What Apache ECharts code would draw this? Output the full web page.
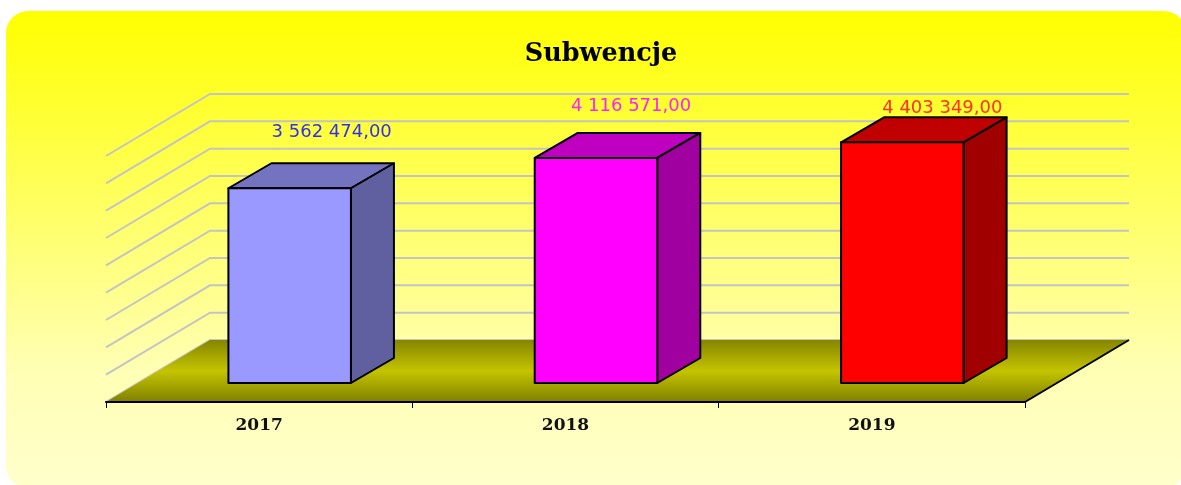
<!DOCTYPE html>
<html>
<head>
<meta charset="utf-8">
<style>html,body{margin:0;padding:0;background:#fff;overflow:hidden}#c{width:1181px;height:485px}</style>
<script src="https://cdn.jsdelivr.net/npm/echarts@6/dist/echarts.min.js"></script>
</head>
<body>
<div id="c"></div>
<script>
var chartTitle = 'Subwencje';
var categories = ['2017', '2018', '2019'];
var values = [3562474, 4116571, 4403349];
var valueLabels = ['3 562 474,00', '4 116 571,00', '4 403 349,00'];
var gridValues = [0, 500000, 1000000, 1500000, 2000000, 2500000, 3000000, 3500000, 4000000, 4500000];
var frontColors = ['#9999ff', '#ff00ff', '#ff0000'];
var topColors = ['#7373bf', '#c000c0', '#c00000'];
var sideColors = ['#6060a0', '#a000a0', '#a00000'];
var labelColors = ['#3030f0', '#ff20ff', '#ff3020'];

// 3D projection constants
var DEPTH_X = 104, DEPTH_Y = -62;       // floor depth
var BAR_X = 30.5, BAR_Y = -19;          // front plane of the bars
var BAR_DX = 43, BAR_DY = -25;          // depth of a bar
var LABEL_OFFSET = [[42, -56], [35, -52], [40, -34]];

var chart = echarts.init(document.getElementById('c'));
chart.setOption({
  animation: false,
  backgroundColor: 'transparent',
  graphic: [{
    type: 'rect', z: -10, silent: true,
    shape: {x: 6, y: 11, width: 1180, height: 477, r: 22},
    style: {fill: new echarts.graphic.LinearGradient(0, 0, 0, 1, [
      {offset: 0, color: '#ffff00'},
      {offset: 0.75, color: '#ffffb4'},
      {offset: 1, color: '#ffffcc'}
    ])}
  }],
  title: {
    text: chartTitle, left: 596, top: 36, textAlign: 'center',
    textStyle: {fontFamily: 'DejaVu Serif', fontWeight: 'bold', fontSize: 25.5, color: '#000'}
  },
  grid: {left: 106, top: 156, width: 919, height: 246},
  xAxis: {
    type: 'category', data: categories,
    axisLine: {show: true, lineStyle: {color: '#000', width: 2}},
    axisTick: {show: true, alignWithLabel: false, length: 6, lineStyle: {color: '#000', width: 1}},
    axisLabel: {margin: 15, fontFamily: 'DejaVu Serif', fontWeight: 'bold', fontSize: 17, color: '#111'},
    z: 5
  },
  yAxis: {type: 'value', min: 0, max: 4500000, interval: 500000, show: false, splitLine: {show: false}},
  series: [
    {
      type: 'custom', coordinateSystem: 'cartesian2d', silent: true, clip: false, z: 1,
      data: gridValues.map(function (v) { return [0, v]; }),
      encode: {x: 0, y: 1},
      renderItem: function (params, api) {
        var cs = params.coordSys, y = api.coord([0, api.value(1)])[1];
        return {
          type: 'polyline',
          shape: {points: [[cs.x, y], [cs.x + DEPTH_X, y + DEPTH_Y], [cs.x + cs.width + DEPTH_X, y + DEPTH_Y]]},
          style: {stroke: '#c4c4c4', lineWidth: 2, fill: null}
        };
      }
    },
    {
      type: 'custom', coordinateSystem: 'cartesian2d', silent: true, clip: false, z: 2,
      data: [[0, 0]],
      encode: {x: 0, y: 1},
      renderItem: function (params, api) {
        var cs = params.coordSys, y = api.coord([0, 0])[1];
        var l = cs.x, r = cs.x + cs.width;
        return {
          type: 'group',
          children: [{
            type: 'polygon',
            shape: {points: [[l, y], [l + DEPTH_X, y + DEPTH_Y], [r + DEPTH_X, y + DEPTH_Y], [r, y]]},
            style: {fill: new echarts.graphic.LinearGradient(0, 0, 0, 1, [
              {offset: 0, color: '#858500'},
              {offset: 0.5, color: '#c4c400'},
              {offset: 1, color: '#808000'}
            ])}
          }, {
            type: 'line',
            shape: {x1: r, y1: y, x2: r + DEPTH_X, y2: y + DEPTH_Y},
            style: {stroke: '#000', lineWidth: 2}
          }]
        };
      }
    },
    {
      type: 'custom', coordinateSystem: 'cartesian2d', silent: true, clip: false, z: 3,
      data: categories.map(function (c, i) { return [i, values[i]]; }),
      encode: {x: 0, y: 1},
      renderItem: function (params, api) {
        var i = api.value(0), val = api.value(1);
        var top = api.coord([i, val]), base = api.coord([i, 0]);
        var w = api.size([1, 0])[0] * 0.4;
        var x0 = top[0] + BAR_X - w / 2, x1 = x0 + w;
        var y0 = top[1] + BAR_Y, y1 = base[1] + BAR_Y;
        var line = {stroke: '#000', lineWidth: 2, lineJoin: 'round'};
        function poly(points, fill) {
          return {type: 'polygon', shape: {points: points},
            style: {fill: fill, stroke: line.stroke, lineWidth: line.lineWidth, lineJoin: line.lineJoin}};
        }
        return {
          type: 'group',
          children: [
            poly([[x0, y0], [x0 + BAR_DX, y0 + BAR_DY], [x1 + BAR_DX, y0 + BAR_DY], [x1, y0]], topColors[i]),
            poly([[x1, y0], [x1 + BAR_DX, y0 + BAR_DY], [x1 + BAR_DX, y1 + BAR_DY], [x1, y1]], sideColors[i]),
            poly([[x0, y0], [x1, y0], [x1, y1], [x0, y1]], frontColors[i]),
            {
              type: 'text',
              style: {
                x: top[0] + BAR_X + LABEL_OFFSET[i][0], y: y0 + LABEL_OFFSET[i][1],
                text: valueLabels[i], align: 'center', verticalAlign: 'middle',
                fontFamily: 'DejaVu Sans', fontSize: 18, fill: labelColors[i]
              }
            }
          ]
        };
      }
    }
  ]
});
</script>
</body>
</html>
